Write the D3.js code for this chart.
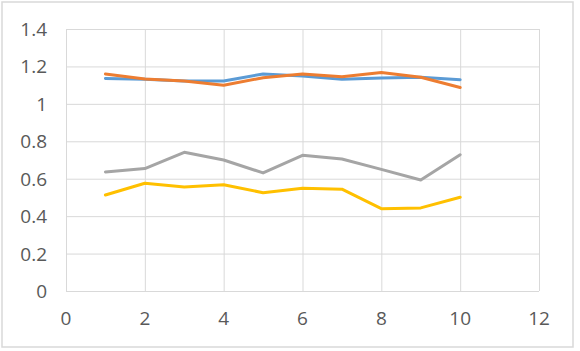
<!DOCTYPE html>
<html>
<head>
<meta charset="utf-8">
<script src="https://cdn.jsdelivr.net/npm/d3@7/dist/d3.min.js"></script>
<style>
  body { margin: 0; background: #fff; }
  text { font-family: "Open Sans", sans-serif; }
</style>
</head>
<body>
<div id="chart"></div>
<script>
// x values shared by every series
const xValues = [1, 2, 3, 4, 5, 6, 7, 8, 9, 10];

const blueValues = [1.135, 1.131, 1.122, 1.122, 1.160, 1.149, 1.131, 1.138, 1.142, 1.129];
const orangeValues = [1.160, 1.133, 1.122, 1.099, 1.140, 1.160, 1.145, 1.167, 1.142, 1.087];
const grayValues = [0.636, 0.654, 0.741, 0.700, 0.631, 0.725, 0.705, 0.650, 0.593, 0.728];
const yellowValues = [0.513, 0.576, 0.556, 0.568, 0.525, 0.549, 0.544, 0.440, 0.444, 0.501];

const xTicks = [0, 2, 4, 6, 8, 10, 12];
const yTicks = [0, 0.2, 0.4, 0.6, 0.8, 1, 1.2, 1.4];

const series = [
  { values: blueValues, color: '#5b9bd5' },
  { values: orangeValues, color: '#ed7d31' },
  { values: grayValues, color: '#a5a5a5' },
  { values: yellowValues, color: '#ffc000' },
];

const width = 580;
const height = 351;
const margin = { top: 29, right: 41, bottom: 60, left: 66 };

const svg = d3.select('#chart').append('svg')
  .attr('width', width)
  .attr('height', height);

// outer chart border
svg.append('rect')
  .attr('x', 2)
  .attr('y', 2)
  .attr('width', 571)
  .attr('height', 345)
  .attr('fill', '#fff')
  .attr('stroke', '#d9d9d9')
  .attr('stroke-width', 1.5);

const x = d3.scaleLinear().domain([0, 12]).range([margin.left, width - margin.right]);
const y = d3.scaleLinear().domain([0, 1.4]).range([height - margin.bottom, margin.top]);

// gridlines
svg.append('g')
  .attr('transform', `translate(0,${height - margin.bottom})`)
  .call(d3.axisBottom(x).tickValues(xTicks).tickSize(-(height - margin.bottom - margin.top)).tickFormat(''))
  .call((g) => g.select('.domain').remove())
  .call((g) => g.selectAll('line').attr('stroke', '#d9d9d9').attr('stroke-width', 1));

svg.append('g')
  .attr('transform', `translate(${margin.left},0)`)
  .call(d3.axisLeft(y).tickValues(yTicks).tickSize(-(width - margin.left - margin.right)).tickFormat(''))
  .call((g) => g.select('.domain').remove())
  .call((g) => g.selectAll('line').attr('stroke', '#d9d9d9').attr('stroke-width', 1));

// tick labels
svg.append('g')
  .selectAll('text')
  .data(xTicks)
  .join('text')
  .attr('x', (d) => x(d))
  .attr('y', 325)
  .attr('text-anchor', 'middle')
  .attr('fill', '#595959')
  .style('font-size', '19px')
  .text((d) => d);

svg.append('g')
  .selectAll('text')
  .data(yTicks)
  .join('text')
  .attr('x', 47)
  .attr('y', (d) => y(d) + 7)
  .attr('text-anchor', 'end')
  .attr('fill', '#595959')
  .style('font-size', '19px')
  .text((d) => d3.format('~g')(d));

const line = d3.line()
  .x((d, i) => x(xValues[i]))
  .y((d) => y(d));

svg.append('g')
  .selectAll('path')
  .data(series)
  .join('path')
  .attr('d', (s) => line(s.values))
  .attr('fill', 'none')
  .attr('stroke', (s) => s.color)
  .attr('stroke-width', 3)
  .attr('stroke-linejoin', 'round')
  .attr('stroke-linecap', 'round');
</script>
</body>
</html>
